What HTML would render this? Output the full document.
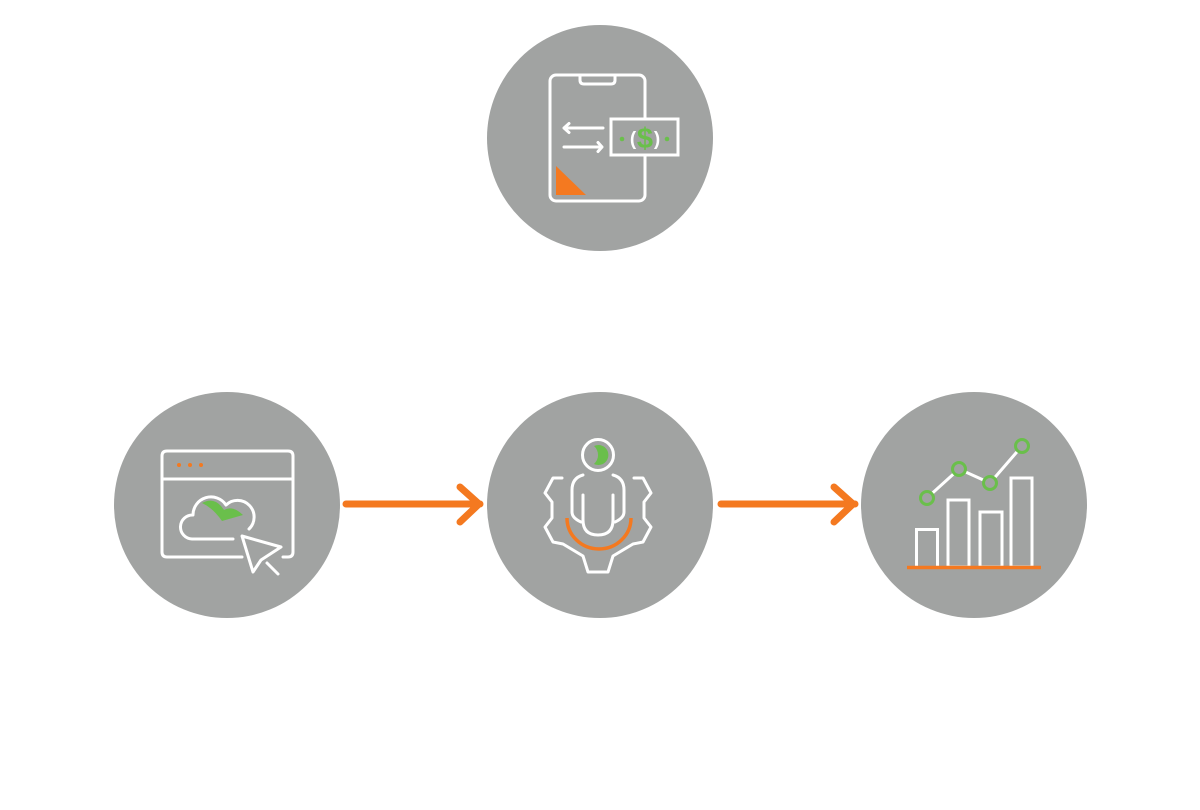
<!DOCTYPE html>
<html><head><meta charset="utf-8"><style>
html,body{margin:0;padding:0;background:#fff;}
svg{display:block;}
</style></head><body>
<svg width="1200" height="810" viewBox="0 0 1200 810" xmlns="http://www.w3.org/2000/svg">
<g fill="#a1a3a2">
<circle cx="600" cy="138" r="113"/>
<circle cx="227" cy="505" r="113"/>
<circle cx="600" cy="505" r="113"/>
<circle cx="974" cy="505" r="113"/>
</g>
<!-- arrows -->
<g stroke="#f47920" stroke-width="7" fill="none" stroke-linecap="round" stroke-linejoin="round">
<path d="M346,504 L480,504 M460,487 L479,504 L460,522"/>
<path d="M721,504 L855,504 M834,487 L853,504 L834,522"/>
</g>
<!-- top icon -->
<g fill="none" stroke="#fff" stroke-width="3" stroke-linecap="round" stroke-linejoin="round">
<rect x="550" y="75" width="95" height="126" rx="6"/>
<path d="M580,75 L580,80 Q580,84 584,84 L611,84 Q615,84 615,80 L615,75"/>
<path d="M564,128 L603,128 M569,123.5 L564,128 L569,132.5"/>
<path d="M564,147 L602,147 M598,142.5 L602,147 L598,151.5"/>
</g>
<rect x="611" y="119" width="67" height="36" fill="#a1a3a2" stroke="#fff" stroke-width="3"/>
<circle cx="622" cy="139" r="2.3" fill="#6abf4b"/>
<circle cx="667" cy="139" r="2.3" fill="#6abf4b"/>
<text x="633" y="145" font-family="Liberation Sans, sans-serif" font-size="19" fill="#fff" font-weight="bold" text-anchor="middle">(</text>
<text x="657" y="145" font-family="Liberation Sans, sans-serif" font-size="19" fill="#fff" font-weight="bold" text-anchor="middle">)</text>
<text x="645" y="148" font-family="Liberation Sans, sans-serif" font-size="29" fill="#6abf4b" font-weight="bold" text-anchor="middle">$</text>
<polygon points="556,166 556,195 586,195" fill="#f47920"/>
<!-- left icon -->
<g fill="none" stroke="#fff" stroke-width="3" stroke-linecap="round" stroke-linejoin="round">
<path d="M242,557 L167,557 Q162,557 162,552 L162,456 Q162,451 167,451 L288,451 Q293,451 293,456 L293,552 Q293,557 288,557 L283,557"/>
<path d="M162,479 L293,479"/>
<path d="M233,539 L192,539 A12,12 0 0 1 193,515 A18,18 0 0 1 226,505 A14,14 0 0 1 249,529"/>
<path d="M242,536 L253,572 L261,560 L281,547 Z"/>
<path d="M267,563 L278,574"/>
</g>
<path d="M202,503 Q213,497 221,506 L224,510 Q233,505 243,515 L222,521 Q213,508 202,503 Z" fill="#6abf4b"/>
<g fill="#f47920"><circle cx="179" cy="465" r="2"/><circle cx="190" cy="465" r="2"/><circle cx="201" cy="465" r="2"/></g>
<!-- middle icon -->
<g fill="none" stroke="#fff" stroke-width="3" stroke-linecap="round" stroke-linejoin="round">
<circle cx="598" cy="455" r="15.5"/>
<path d="M583,475 Q572,478 572,490 L572,512 Q572,518 581,522"/>
<path d="M583,495 L583,520 Q583,535 598,535 Q613,535 613,520 L613,495"/>
<path d="M613,475 Q624,478 624,490 L624,512 Q624,518 615,522"/>
<path d="M562,478 L553,478 L545,493 L552,502 L552,518 L545,527 L553,542 L563,544 L583,556 L588,572 L608,572 L613,556 L633,544 L643,542 L651,527 L644,518 L644,502 L651,493 L643,478 L634,478"/>
</g>
<path d="M594,446 A10,10 0 1 1 594,464 A12,12 0 0 0 594,446 Z" fill="#6abf4b"/>
<path d="M567,518 A32,31 0 0 0 631,518" fill="none" stroke="#f47920" stroke-width="3.5" stroke-linecap="butt"/>
<!-- right icon -->
<g fill="none" stroke="#fff" stroke-width="3">
<rect x="916.5" y="529.5" width="21" height="38"/>
<rect x="948" y="500" width="21" height="67"/>
<rect x="980" y="512" width="22" height="55"/>
<rect x="1011" y="478" width="21" height="89"/>
<path d="M927,498 L959,469 L990,483 L1022,446"/>
</g>
<path d="M907,567.5 L1041,567.5" stroke="#f47920" stroke-width="3.5"/>
<g fill="#a1a3a2" stroke="#6abf4b" stroke-width="3">
<circle cx="927" cy="498" r="6.5"/>
<circle cx="959" cy="469" r="6.5"/>
<circle cx="990" cy="483" r="6.5"/>
<circle cx="1022" cy="446" r="6.5"/>
</g>
</svg>
</body></html>
